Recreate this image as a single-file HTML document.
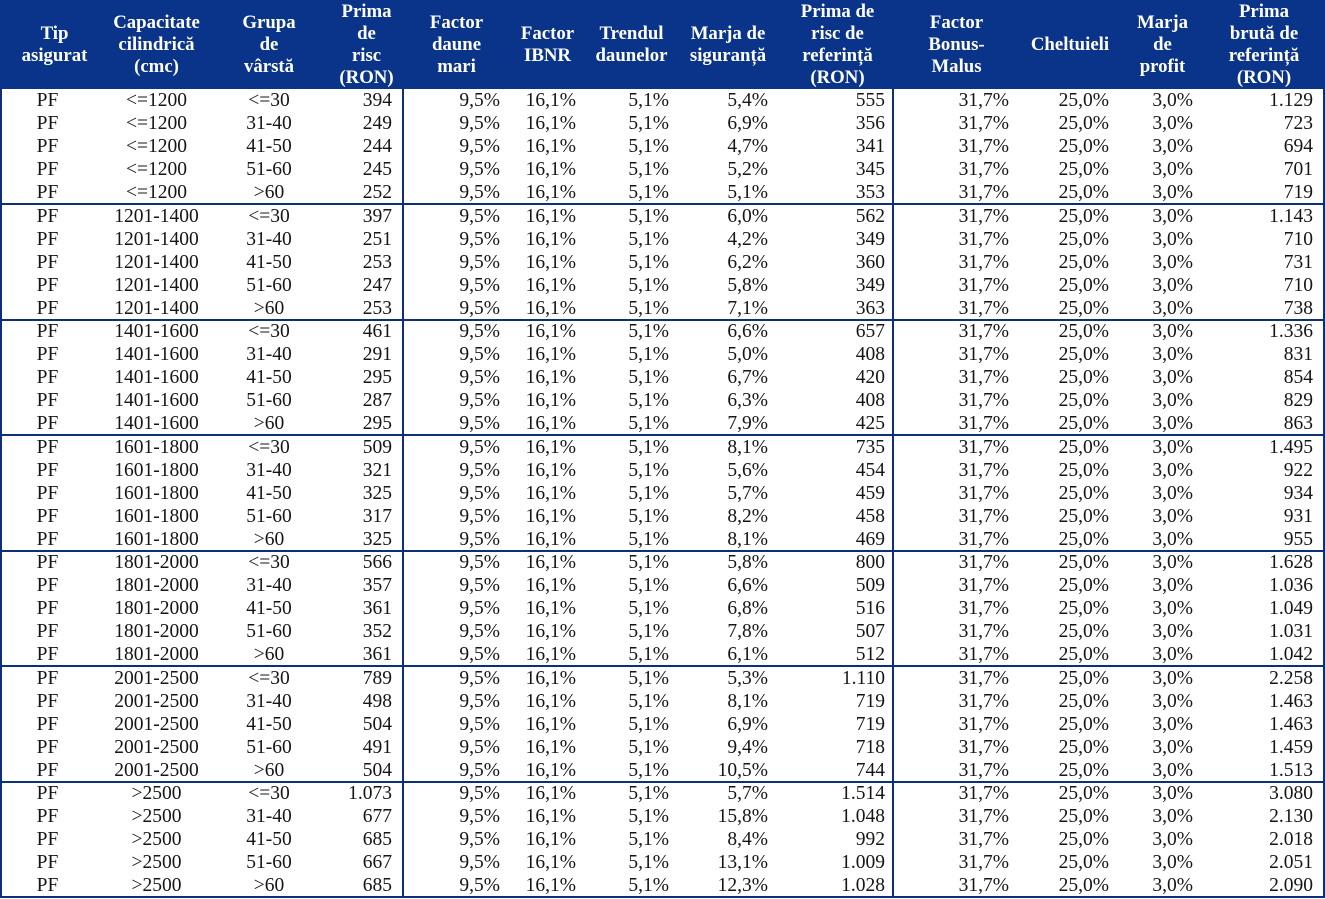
<!DOCTYPE html>
<html><head><meta charset="utf-8"><style>
*{margin:0;padding:0;box-sizing:border-box}
body{width:1325px;height:899px;background:#fff;position:relative;overflow:hidden;font-family:"Liberation Serif",serif}
.hd{position:absolute;left:0;top:0;width:1325px;height:89px;background:#0a3489;display:flex}
.hd div{color:#fff;font-weight:bold;font-size:18.8px;line-height:22px;text-align:center;display:flex;align-items:center;justify-content:center;height:89px;white-space:nowrap}
.r{position:absolute;left:0;width:1325px;height:23px;display:flex;font-size:19.5px;line-height:23px;color:#151515;white-space:nowrap}
.r span{display:block;text-align:right}
.c1{width:95px}.c2{width:123px}.c3{width:102px}.c4{width:83px}.c5{width:107px}.c6{width:75px}.c7{width:93px}.c8{width:100px}.c9{width:115px}.c10{width:127px}.c11{width:100px}.c12{width:85px}.c13{width:118px}
.r .c1,.r .c2,.r .c3{text-align:center}
.r .c4{padding-right:11px}.r .c5{padding-right:10px}.r .c6{padding-right:9px}.r .c7{padding-right:9px}.r .c8{padding-right:10px}.r .c9{padding-right:8px}.r .c10{padding-right:11px}.r .c11{padding-right:11px}.r .c12{padding-right:12px}.r .c13{padding-right:10px}
.ln{position:absolute;background:#0d2f7a}
</style></head><body>
<div class="hd">
<div class="c1" style="padding-left:14px">Tip<br>asigurat</div>
<div class="c2">Capacitate<br>cilindrică<br>(cmc)</div>
<div class="c3">Grupa<br>de<br>vârstă</div>
<div class="c4" style="padding-left:10px">Prima<br>de<br>risc<br>(RON)</div>
<div class="c5">Factor<br>daune<br>mari</div>
<div class="c6">Factor<br>IBNR</div>
<div class="c7">Trendul<br>daunelor</div>
<div class="c8">Marja de<br>siguranță</div>
<div class="c9" style="padding-left:4px">Prima de<br>risc de<br>referință<br>(RON)</div>
<div class="c10">Factor<br>Bonus-<br>Malus</div>
<div class="c11">Cheltuieli</div>
<div class="c12">Marja<br>de<br>profit</div>
<div class="c13">Prima<br>brută de<br>referință<br>(RON)</div>
</div>
<div class="r" style="top:89px"><span class="c1">PF</span><span class="c2">&lt;=1200</span><span class="c3">&lt;=30</span><span class="c4">394</span><span class="c5">9,5%</span><span class="c6">16,1%</span><span class="c7">5,1%</span><span class="c8">5,4%</span><span class="c9">555</span><span class="c10">31,7%</span><span class="c11">25,0%</span><span class="c12">3,0%</span><span class="c13">1.129</span></div>
<div class="r" style="top:112.1px"><span class="c1">PF</span><span class="c2">&lt;=1200</span><span class="c3">31-40</span><span class="c4">249</span><span class="c5">9,5%</span><span class="c6">16,1%</span><span class="c7">5,1%</span><span class="c8">6,9%</span><span class="c9">356</span><span class="c10">31,7%</span><span class="c11">25,0%</span><span class="c12">3,0%</span><span class="c13">723</span></div>
<div class="r" style="top:135.2px"><span class="c1">PF</span><span class="c2">&lt;=1200</span><span class="c3">41-50</span><span class="c4">244</span><span class="c5">9,5%</span><span class="c6">16,1%</span><span class="c7">5,1%</span><span class="c8">4,7%</span><span class="c9">341</span><span class="c10">31,7%</span><span class="c11">25,0%</span><span class="c12">3,0%</span><span class="c13">694</span></div>
<div class="r" style="top:158.3px"><span class="c1">PF</span><span class="c2">&lt;=1200</span><span class="c3">51-60</span><span class="c4">245</span><span class="c5">9,5%</span><span class="c6">16,1%</span><span class="c7">5,1%</span><span class="c8">5,2%</span><span class="c9">345</span><span class="c10">31,7%</span><span class="c11">25,0%</span><span class="c12">3,0%</span><span class="c13">701</span></div>
<div class="r" style="top:181.4px"><span class="c1">PF</span><span class="c2">&lt;=1200</span><span class="c3">&gt;60</span><span class="c4">252</span><span class="c5">9,5%</span><span class="c6">16,1%</span><span class="c7">5,1%</span><span class="c8">5,1%</span><span class="c9">353</span><span class="c10">31,7%</span><span class="c11">25,0%</span><span class="c12">3,0%</span><span class="c13">719</span></div>
<div class="r" style="top:204.5px"><span class="c1">PF</span><span class="c2">1201-1400</span><span class="c3">&lt;=30</span><span class="c4">397</span><span class="c5">9,5%</span><span class="c6">16,1%</span><span class="c7">5,1%</span><span class="c8">6,0%</span><span class="c9">562</span><span class="c10">31,7%</span><span class="c11">25,0%</span><span class="c12">3,0%</span><span class="c13">1.143</span></div>
<div class="r" style="top:227.6px"><span class="c1">PF</span><span class="c2">1201-1400</span><span class="c3">31-40</span><span class="c4">251</span><span class="c5">9,5%</span><span class="c6">16,1%</span><span class="c7">5,1%</span><span class="c8">4,2%</span><span class="c9">349</span><span class="c10">31,7%</span><span class="c11">25,0%</span><span class="c12">3,0%</span><span class="c13">710</span></div>
<div class="r" style="top:250.7px"><span class="c1">PF</span><span class="c2">1201-1400</span><span class="c3">41-50</span><span class="c4">253</span><span class="c5">9,5%</span><span class="c6">16,1%</span><span class="c7">5,1%</span><span class="c8">6,2%</span><span class="c9">360</span><span class="c10">31,7%</span><span class="c11">25,0%</span><span class="c12">3,0%</span><span class="c13">731</span></div>
<div class="r" style="top:273.8px"><span class="c1">PF</span><span class="c2">1201-1400</span><span class="c3">51-60</span><span class="c4">247</span><span class="c5">9,5%</span><span class="c6">16,1%</span><span class="c7">5,1%</span><span class="c8">5,8%</span><span class="c9">349</span><span class="c10">31,7%</span><span class="c11">25,0%</span><span class="c12">3,0%</span><span class="c13">710</span></div>
<div class="r" style="top:296.9px"><span class="c1">PF</span><span class="c2">1201-1400</span><span class="c3">&gt;60</span><span class="c4">253</span><span class="c5">9,5%</span><span class="c6">16,1%</span><span class="c7">5,1%</span><span class="c8">7,1%</span><span class="c9">363</span><span class="c10">31,7%</span><span class="c11">25,0%</span><span class="c12">3,0%</span><span class="c13">738</span></div>
<div class="r" style="top:320px"><span class="c1">PF</span><span class="c2">1401-1600</span><span class="c3">&lt;=30</span><span class="c4">461</span><span class="c5">9,5%</span><span class="c6">16,1%</span><span class="c7">5,1%</span><span class="c8">6,6%</span><span class="c9">657</span><span class="c10">31,7%</span><span class="c11">25,0%</span><span class="c12">3,0%</span><span class="c13">1.336</span></div>
<div class="r" style="top:343.1px"><span class="c1">PF</span><span class="c2">1401-1600</span><span class="c3">31-40</span><span class="c4">291</span><span class="c5">9,5%</span><span class="c6">16,1%</span><span class="c7">5,1%</span><span class="c8">5,0%</span><span class="c9">408</span><span class="c10">31,7%</span><span class="c11">25,0%</span><span class="c12">3,0%</span><span class="c13">831</span></div>
<div class="r" style="top:366.2px"><span class="c1">PF</span><span class="c2">1401-1600</span><span class="c3">41-50</span><span class="c4">295</span><span class="c5">9,5%</span><span class="c6">16,1%</span><span class="c7">5,1%</span><span class="c8">6,7%</span><span class="c9">420</span><span class="c10">31,7%</span><span class="c11">25,0%</span><span class="c12">3,0%</span><span class="c13">854</span></div>
<div class="r" style="top:389.3px"><span class="c1">PF</span><span class="c2">1401-1600</span><span class="c3">51-60</span><span class="c4">287</span><span class="c5">9,5%</span><span class="c6">16,1%</span><span class="c7">5,1%</span><span class="c8">6,3%</span><span class="c9">408</span><span class="c10">31,7%</span><span class="c11">25,0%</span><span class="c12">3,0%</span><span class="c13">829</span></div>
<div class="r" style="top:412.4px"><span class="c1">PF</span><span class="c2">1401-1600</span><span class="c3">&gt;60</span><span class="c4">295</span><span class="c5">9,5%</span><span class="c6">16,1%</span><span class="c7">5,1%</span><span class="c8">7,9%</span><span class="c9">425</span><span class="c10">31,7%</span><span class="c11">25,0%</span><span class="c12">3,0%</span><span class="c13">863</span></div>
<div class="r" style="top:435.5px"><span class="c1">PF</span><span class="c2">1601-1800</span><span class="c3">&lt;=30</span><span class="c4">509</span><span class="c5">9,5%</span><span class="c6">16,1%</span><span class="c7">5,1%</span><span class="c8">8,1%</span><span class="c9">735</span><span class="c10">31,7%</span><span class="c11">25,0%</span><span class="c12">3,0%</span><span class="c13">1.495</span></div>
<div class="r" style="top:458.6px"><span class="c1">PF</span><span class="c2">1601-1800</span><span class="c3">31-40</span><span class="c4">321</span><span class="c5">9,5%</span><span class="c6">16,1%</span><span class="c7">5,1%</span><span class="c8">5,6%</span><span class="c9">454</span><span class="c10">31,7%</span><span class="c11">25,0%</span><span class="c12">3,0%</span><span class="c13">922</span></div>
<div class="r" style="top:481.7px"><span class="c1">PF</span><span class="c2">1601-1800</span><span class="c3">41-50</span><span class="c4">325</span><span class="c5">9,5%</span><span class="c6">16,1%</span><span class="c7">5,1%</span><span class="c8">5,7%</span><span class="c9">459</span><span class="c10">31,7%</span><span class="c11">25,0%</span><span class="c12">3,0%</span><span class="c13">934</span></div>
<div class="r" style="top:504.8px"><span class="c1">PF</span><span class="c2">1601-1800</span><span class="c3">51-60</span><span class="c4">317</span><span class="c5">9,5%</span><span class="c6">16,1%</span><span class="c7">5,1%</span><span class="c8">8,2%</span><span class="c9">458</span><span class="c10">31,7%</span><span class="c11">25,0%</span><span class="c12">3,0%</span><span class="c13">931</span></div>
<div class="r" style="top:527.9px"><span class="c1">PF</span><span class="c2">1601-1800</span><span class="c3">&gt;60</span><span class="c4">325</span><span class="c5">9,5%</span><span class="c6">16,1%</span><span class="c7">5,1%</span><span class="c8">8,1%</span><span class="c9">469</span><span class="c10">31,7%</span><span class="c11">25,0%</span><span class="c12">3,0%</span><span class="c13">955</span></div>
<div class="r" style="top:551px"><span class="c1">PF</span><span class="c2">1801-2000</span><span class="c3">&lt;=30</span><span class="c4">566</span><span class="c5">9,5%</span><span class="c6">16,1%</span><span class="c7">5,1%</span><span class="c8">5,8%</span><span class="c9">800</span><span class="c10">31,7%</span><span class="c11">25,0%</span><span class="c12">3,0%</span><span class="c13">1.628</span></div>
<div class="r" style="top:574.1px"><span class="c1">PF</span><span class="c2">1801-2000</span><span class="c3">31-40</span><span class="c4">357</span><span class="c5">9,5%</span><span class="c6">16,1%</span><span class="c7">5,1%</span><span class="c8">6,6%</span><span class="c9">509</span><span class="c10">31,7%</span><span class="c11">25,0%</span><span class="c12">3,0%</span><span class="c13">1.036</span></div>
<div class="r" style="top:597.2px"><span class="c1">PF</span><span class="c2">1801-2000</span><span class="c3">41-50</span><span class="c4">361</span><span class="c5">9,5%</span><span class="c6">16,1%</span><span class="c7">5,1%</span><span class="c8">6,8%</span><span class="c9">516</span><span class="c10">31,7%</span><span class="c11">25,0%</span><span class="c12">3,0%</span><span class="c13">1.049</span></div>
<div class="r" style="top:620.3px"><span class="c1">PF</span><span class="c2">1801-2000</span><span class="c3">51-60</span><span class="c4">352</span><span class="c5">9,5%</span><span class="c6">16,1%</span><span class="c7">5,1%</span><span class="c8">7,8%</span><span class="c9">507</span><span class="c10">31,7%</span><span class="c11">25,0%</span><span class="c12">3,0%</span><span class="c13">1.031</span></div>
<div class="r" style="top:643.4px"><span class="c1">PF</span><span class="c2">1801-2000</span><span class="c3">&gt;60</span><span class="c4">361</span><span class="c5">9,5%</span><span class="c6">16,1%</span><span class="c7">5,1%</span><span class="c8">6,1%</span><span class="c9">512</span><span class="c10">31,7%</span><span class="c11">25,0%</span><span class="c12">3,0%</span><span class="c13">1.042</span></div>
<div class="r" style="top:666.5px"><span class="c1">PF</span><span class="c2">2001-2500</span><span class="c3">&lt;=30</span><span class="c4">789</span><span class="c5">9,5%</span><span class="c6">16,1%</span><span class="c7">5,1%</span><span class="c8">5,3%</span><span class="c9">1.110</span><span class="c10">31,7%</span><span class="c11">25,0%</span><span class="c12">3,0%</span><span class="c13">2.258</span></div>
<div class="r" style="top:689.6px"><span class="c1">PF</span><span class="c2">2001-2500</span><span class="c3">31-40</span><span class="c4">498</span><span class="c5">9,5%</span><span class="c6">16,1%</span><span class="c7">5,1%</span><span class="c8">8,1%</span><span class="c9">719</span><span class="c10">31,7%</span><span class="c11">25,0%</span><span class="c12">3,0%</span><span class="c13">1.463</span></div>
<div class="r" style="top:712.7px"><span class="c1">PF</span><span class="c2">2001-2500</span><span class="c3">41-50</span><span class="c4">504</span><span class="c5">9,5%</span><span class="c6">16,1%</span><span class="c7">5,1%</span><span class="c8">6,9%</span><span class="c9">719</span><span class="c10">31,7%</span><span class="c11">25,0%</span><span class="c12">3,0%</span><span class="c13">1.463</span></div>
<div class="r" style="top:735.8px"><span class="c1">PF</span><span class="c2">2001-2500</span><span class="c3">51-60</span><span class="c4">491</span><span class="c5">9,5%</span><span class="c6">16,1%</span><span class="c7">5,1%</span><span class="c8">9,4%</span><span class="c9">718</span><span class="c10">31,7%</span><span class="c11">25,0%</span><span class="c12">3,0%</span><span class="c13">1.459</span></div>
<div class="r" style="top:758.9px"><span class="c1">PF</span><span class="c2">2001-2500</span><span class="c3">&gt;60</span><span class="c4">504</span><span class="c5">9,5%</span><span class="c6">16,1%</span><span class="c7">5,1%</span><span class="c8">10,5%</span><span class="c9">744</span><span class="c10">31,7%</span><span class="c11">25,0%</span><span class="c12">3,0%</span><span class="c13">1.513</span></div>
<div class="r" style="top:782px"><span class="c1">PF</span><span class="c2">&gt;2500</span><span class="c3">&lt;=30</span><span class="c4">1.073</span><span class="c5">9,5%</span><span class="c6">16,1%</span><span class="c7">5,1%</span><span class="c8">5,7%</span><span class="c9">1.514</span><span class="c10">31,7%</span><span class="c11">25,0%</span><span class="c12">3,0%</span><span class="c13">3.080</span></div>
<div class="r" style="top:805.1px"><span class="c1">PF</span><span class="c2">&gt;2500</span><span class="c3">31-40</span><span class="c4">677</span><span class="c5">9,5%</span><span class="c6">16,1%</span><span class="c7">5,1%</span><span class="c8">15,8%</span><span class="c9">1.048</span><span class="c10">31,7%</span><span class="c11">25,0%</span><span class="c12">3,0%</span><span class="c13">2.130</span></div>
<div class="r" style="top:828.2px"><span class="c1">PF</span><span class="c2">&gt;2500</span><span class="c3">41-50</span><span class="c4">685</span><span class="c5">9,5%</span><span class="c6">16,1%</span><span class="c7">5,1%</span><span class="c8">8,4%</span><span class="c9">992</span><span class="c10">31,7%</span><span class="c11">25,0%</span><span class="c12">3,0%</span><span class="c13">2.018</span></div>
<div class="r" style="top:851.3px"><span class="c1">PF</span><span class="c2">&gt;2500</span><span class="c3">51-60</span><span class="c4">667</span><span class="c5">9,5%</span><span class="c6">16,1%</span><span class="c7">5,1%</span><span class="c8">13,1%</span><span class="c9">1.009</span><span class="c10">31,7%</span><span class="c11">25,0%</span><span class="c12">3,0%</span><span class="c13">2.051</span></div>
<div class="r" style="top:874.4px"><span class="c1">PF</span><span class="c2">&gt;2500</span><span class="c3">&gt;60</span><span class="c4">685</span><span class="c5">9,5%</span><span class="c6">16,1%</span><span class="c7">5,1%</span><span class="c8">12,3%</span><span class="c9">1.028</span><span class="c10">31,7%</span><span class="c11">25,0%</span><span class="c12">3,0%</span><span class="c13">2.090</span></div>
<div class="ln" style="left:0;top:88px;width:2px;height:810px"></div>
<div class="ln" style="left:1323px;top:88px;width:2px;height:810px"></div>
<div class="ln" style="left:402px;top:88px;width:2px;height:810px"></div>
<div class="ln" style="left:892px;top:88px;width:2px;height:810px"></div>
<div class="ln" style="left:0;top:896px;width:1325px;height:2px"></div>
<div class="ln" style="left:0;top:203px;width:1325px;height:2px"></div>
<div class="ln" style="left:0;top:318.5px;width:1325px;height:2px"></div>
<div class="ln" style="left:0;top:434px;width:1325px;height:2px"></div>
<div class="ln" style="left:0;top:549.5px;width:1325px;height:2px"></div>
<div class="ln" style="left:0;top:665px;width:1325px;height:2px"></div>
<div class="ln" style="left:0;top:780.5px;width:1325px;height:2px"></div>
</body></html>
